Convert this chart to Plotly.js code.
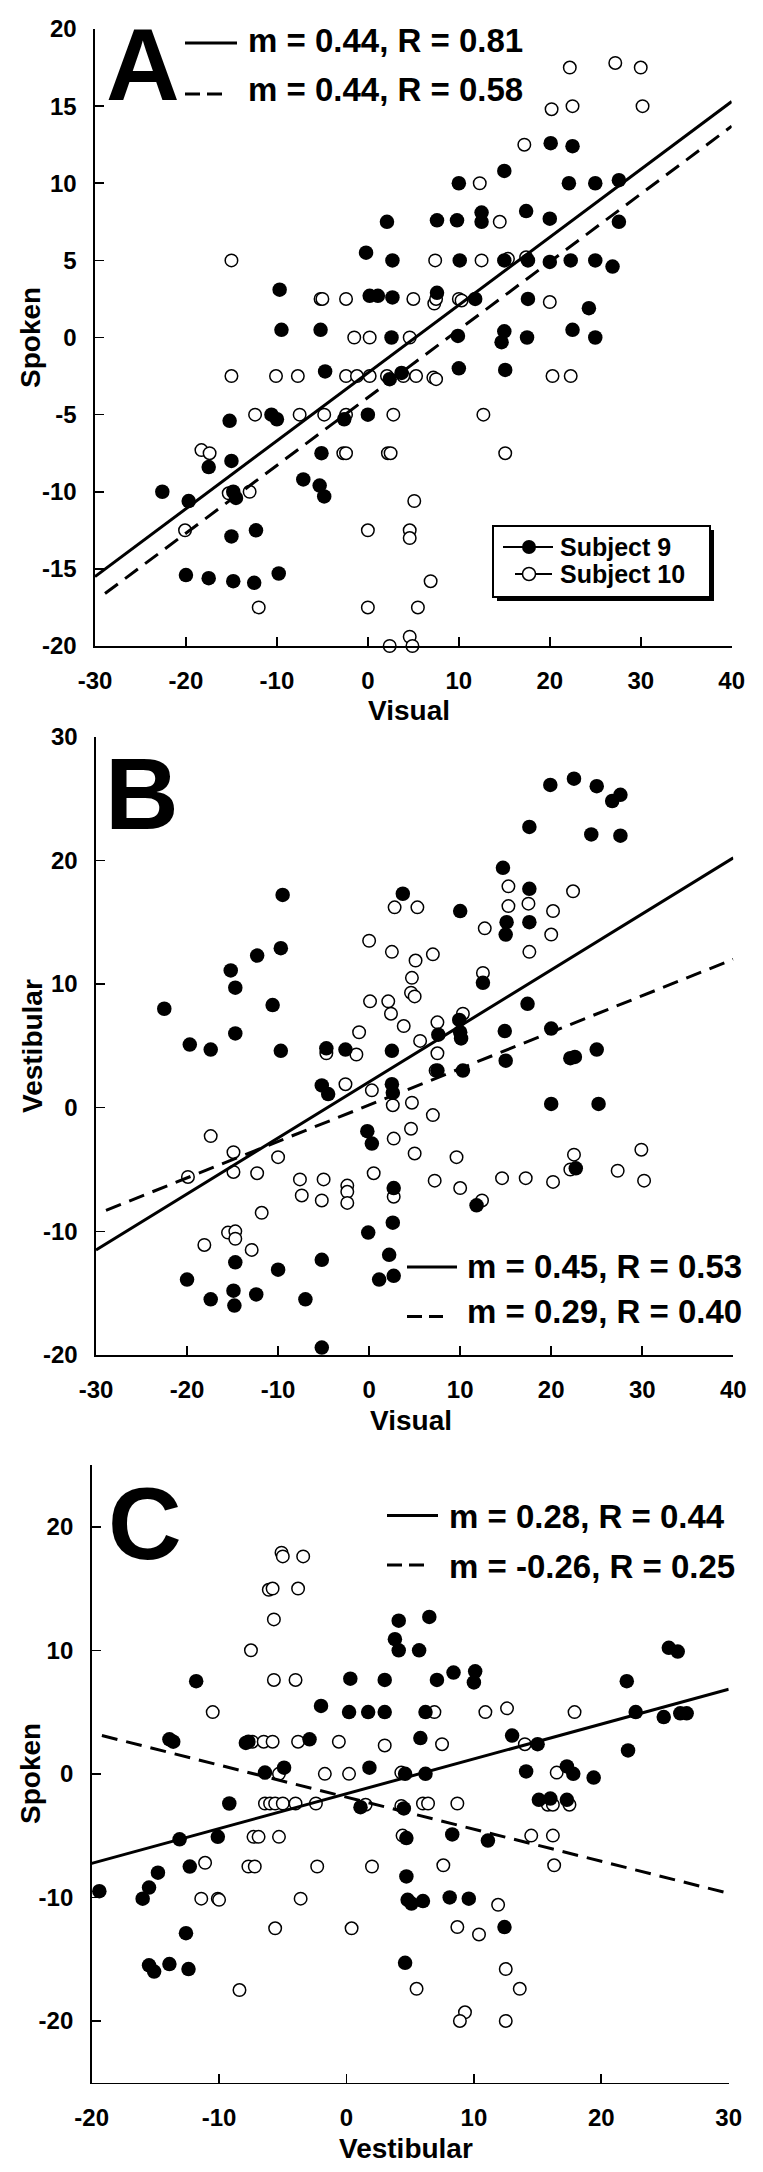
<!DOCTYPE html>
<html>
<head>
<meta charset="utf-8">
<script src="https://cdn.plot.ly/plotly-3.0.1.min.js"></script>
<style>html,body{margin:0;padding:0;background:#fff;}#chart{width:763px;height:2172px;}</style>
</head>
<body>
<div id="chart"></div>
<script>
// ---------- DATA ----------
// Panel A: Visual (x) vs Spoken (y)
const aS9x = [-9.7,-0.2,2.1,2.7,0.2,1.1,2.7,-9.5,-5.2,2.6,20.1,22.5,15.0,10.0,22.1,25.0,27.6,7.6,9.8,12.5,12.5,17.4,20.0,27.6,10.1,15.0,17.6,20.0,22.3,25.0,26.9,7.6,11.8,17.6,24.3,9.9,15.0,14.7,17.5,22.5,25.0,2.4,3.7,10.0,15.1,-4.7,-15.2,-10.6,-10.0,-2.6,0.0,-17.5,-15.0,-5.1,-22.6,-19.7,-14.8,-14.5,-7.1,-5.3,-4.8,-15.0,-12.3,-20.0,-17.5,-14.8,-12.5,-9.8];
const aS9y = [3.1,5.5,7.5,5.0,2.7,2.7,2.6,0.5,0.5,0.0,12.6,12.4,10.8,10.0,10.0,10.0,10.2,7.6,7.6,8.1,7.5,8.2,7.7,7.5,5.0,5.0,5.0,4.9,5.0,5.0,4.6,2.9,2.5,2.5,1.9,0.1,0.4,-0.3,0.0,0.5,0.0,-2.7,-2.3,-2.0,-2.1,-2.2,-5.4,-5.0,-5.3,-5.3,-5.0,-8.4,-8.0,-7.5,-10.0,-10.6,-10.0,-10.4,-9.2,-9.6,-10.3,-12.9,-12.5,-15.4,-15.6,-15.8,-15.9,-15.3];
const aS10x = [-15,-5.2,-5.0,-2.4,-1.5,0.2,22.2,27.2,30.0,20.2,22.5,30.2,17.2,12.3,14.5,7.4,12.5,15.4,17.4,5.0,7.3,7.5,10.0,10.3,20.0,4.6,2.1,3.9,5.3,7.2,7.5,20.3,22.3,2.8,12.7,2.2,2.5,15.1,5.1,4.6,4.6,6.9,5.5,4.6,4.9,2.4,-15,-10.1,-7.7,-2.4,-1.2,0.2,-12.4,-7.5,-4.8,-2.4,-18.3,-17.4,-2.7,-2.4,-15.3,-13,-20.1,0,-12,0];
const aS10y = [5,2.5,2.5,2.5,0,0,17.5,17.8,17.5,14.8,15.0,15.0,12.5,10.0,7.5,5.0,5.0,5.1,5.2,2.5,2.2,2.5,2.5,2.4,2.3,0,-2.5,-2.5,-2.5,-2.6,-2.7,-2.5,-2.5,-5,-5,-7.5,-7.5,-7.5,-10.6,-12.5,-13,-15.8,-17.5,-19.4,-20,-20,-2.5,-2.5,-2.5,-2.5,-2.5,-2.5,-5,-5,-5,-5,-7.3,-7.5,-7.5,-7.5,-10.1,-10,-12.5,-12.5,-17.5,-17.5];
const aFitSolidX = [-30, 40], aFitSolidY = [-15.5, 15.3];
const aFitDashX = [-28.9, 40], aFitDashY = [-16.6, 13.7];

// Panel B: Visual (x) vs Vestibular (y)
const bS9x = [-9.5,-9.7,-12.3,-15.2,-14.7,-10.6,-22.5,-14.7,-19.7,-17.4,-9.7,-4.7,-2.6,2.5,3.7,10.0,7.6,9.9,10.0,10.1,7.5,10.3,2.5,15.0,14.9,17.4,20.0,22.1,22.6,25.0,14.7,17.6,15.1,15.0,17.6,12.5,19.9,22.5,25.0,26.7,27.6,17.6,24.4,27.6,-5.2,-4.5,2.6,-0.2,0.3,2.7,2.6,-0.1,2.2,1.1,2.7,-14.7,-10.0,-20.0,-17.4,-14.9,-14.8,-12.4,-7.0,-5.2,-5.2,11.8,22.7,20.0,25.2];
const bS9y = [17.2,12.9,12.3,11.1,9.7,8.3,8.0,6.0,5.1,4.7,4.6,4.8,4.7,4.6,17.3,15.9,5.9,7.1,6.1,5.6,3.0,3.0,1.9,3.8,6.2,8.4,6.4,4.0,4.1,4.7,19.4,17.7,15.0,14.0,15.0,10.1,26.1,26.6,26.0,24.8,25.3,22.7,22.1,22.0,1.8,1.1,1.2,-1.9,-2.9,-6.5,-9.3,-10.1,-11.9,-13.9,-13.6,-12.5,-13.1,-13.9,-15.5,-14.8,-16.0,-15.1,-15.5,-12.3,-19.4,-7.9,-4.9,0.3,0.3];
const bS10x = [-4.7,-1.4,-1.1,0.1,2.1,2.4,0.0,2.5,2.8,5.3,5.1,7.0,4.7,4.6,5.0,3.8,5.6,7.5,10.3,7.5,7.3,15.3,15.3,17.5,12.7,20.2,20.0,22.4,17.6,12.5,-2.6,0.3,2.6,-17.4,-14.9,-14.9,-19.9,-12.3,-10.0,-7.6,-7.4,-5.0,-5.2,-2.4,-2.4,-2.4,0.5,2.7,2.7,-18.1,-15.5,-14.7,-14.7,-12.9,-11.8,4.7,7.0,4.6,5.0,9.6,7.2,10.0,12.4,14.6,17.2,20.2,22.5,22.1,27.3,29.9,30.2];
const bS10y = [4.4,4.3,6.1,8.6,8.6,7.6,13.5,12.6,16.2,16.2,11.9,12.4,10.5,9.3,9.0,6.6,5.4,6.9,7.6,4.4,3.0,17.9,16.3,16.5,14.5,15.9,14.0,17.5,12.6,10.9,1.9,1.4,0.2,-2.3,-3.6,-5.2,-5.6,-5.3,-4.0,-5.8,-7.1,-5.8,-7.5,-6.3,-6.8,-7.7,-5.3,-2.5,-7.2,-11.1,-10.1,-10.0,-10.6,-11.5,-8.5,0.4,-0.6,-1.7,-3.7,-4.0,-5.9,-6.5,-7.5,-5.7,-5.7,-6.0,-3.8,-5.0,-5.1,-3.4,-5.9];
const bFitSolidX = [-30, 40], bFitSolidY = [-11.5, 20.2];
const bFitDashX = [-28.9, 40], bFitDashY = [-8.3, 12.0];

// Panel C: Vestibular (x) vs Spoken (y)
const cS9x = [-11.8,-13.9,-13.6,-7.9,-7.7,-2.9,-2.0,0.2,1.7,3.0,0.3,3.0,-6.4,-4.9,1.8,-9.2,1.1,4.1,6.5,3.8,4.1,5.7,7.1,8.4,10.1,10.0,6.2,22.0,25.3,26.0,22.7,24.9,26.2,26.7,22.1,5.8,13.0,15.0,14.1,17.3,17.8,19.4,4.6,6.2,15.1,16.0,17.3,4.5,-13.1,-10.1,-12.3,-14.8,-15.5,-16.0,-19.4,-12.6,-15.5,-15.1,-13.9,-12.4,4.7,8.3,11.1,4.7,4.8,5.1,6.0,8.1,9.6,12.4,4.6];
const cS9y = [7.5,2.8,2.6,2.5,2.6,2.8,5.5,5.0,5.0,5.0,7.7,7.6,0.1,0.5,0.5,-2.4,-2.7,12.4,12.7,10.9,10.0,10.0,7.6,8.2,8.3,7.4,5.0,7.5,10.2,9.9,5.0,4.6,4.9,4.9,1.9,2.9,3.1,2.4,0.2,0.6,0.0,-0.3,0.0,0.0,-2.1,-2.0,-2.1,-2.8,-5.3,-5.1,-7.5,-8.0,-9.2,-10.1,-9.5,-12.9,-15.5,-16.0,-15.4,-15.8,-5.2,-4.9,-5.4,-8.3,-10.2,-10.5,-10.3,-10.0,-10.1,-12.4,-15.3];
const cS10x = [-5.1,-5.0,-3.4,-6.1,-5.8,-3.8,-5.7,-7.5,-5.7,-4.0,-10.5,-7.4,-6.5,-5.8,-3.8,-0.6,3.0,-5.3,-1.7,0.2,-6.4,-6.0,-5.6,-5.0,-4.0,-2.4,1.5,6.9,10.9,12.6,17.9,7.5,14.0,16.5,4.3,15.8,16.2,17.5,4.3,6.0,6.4,8.7,-7.3,-6.9,-5.3,-11.1,-7.7,-7.2,-2.3,2.0,-11.4,-10.1,-10.0,-3.6,-5.6,0.4,-8.4,4.4,14.5,16.2,7.6,16.3,11.9,8.7,10.4,5.5,12.5,13.6,9.3,8.9,12.5];
const cS10y = [17.9,17.6,17.6,14.9,15.0,15.0,12.5,10.0,7.6,7.6,5.0,2.6,2.6,2.6,2.6,2.6,2.3,0.0,0.0,0.0,-2.4,-2.4,-2.4,-2.4,-2.4,-2.4,-2.5,5.0,5.0,5.3,5.0,2.4,2.4,0.1,0.1,-2.5,-2.5,-2.5,-2.6,-2.4,-2.4,-2.4,-5.1,-5.1,-5.1,-7.2,-7.5,-7.5,-7.5,-7.5,-10.1,-10.1,-10.2,-10.1,-12.5,-12.5,-17.5,-5.0,-5.0,-5.0,-7.4,-7.4,-10.6,-12.4,-13.0,-17.4,-15.8,-17.4,-19.3,-20.0,-20.0];
const cFitSolidX = [-20, 30], cFitSolidY = [-7.25, 6.85];
const cFitDashX = [-19.2, 30.1], cFitDashY = [3.1, -9.7];

const fitLabelsA = ["m = 0.44, R = 0.81", "m = 0.44, R = 0.58"];
const fitLabelsB = ["m = 0.45, R = 0.53", "m = 0.29, R = 0.40"];
const fitLabelsC = ["m = 0.28, R = 0.44", "m = -0.26, R = 0.25"];
const seriesNames = ["Subject 9", "Subject 10"];
const xTicksAB = [-30,-20,-10,0,10,20,30,40];
const yTicksA = [-20,-15,-10,-5,0,5,10,15,20];
const yTicksB = [-20,-10,0,10,20,30];
const xTicksC = [-20,-10,0,10,20,30];
const yTicksC = [-20,-10,0,10,20];

// ---------- RENDER ----------
const W = 763, H = 2172;
const PX = v => v / W;
const PY = v => 1 - v / H;
const FONT = "Liberation Sans, Arial, Helvetica, sans-serif";

function panelTraces(xa, ya, fx, fy, ox, oy, sx, sy, dx, dy) {
  return [
    {x: ox, y: oy, xaxis: xa, yaxis: ya, type: 'scatter', mode: 'markers', cliponaxis: false, showlegend: false, name: seriesNames[1],
     marker: {symbol: 'circle', size: 12.5, color: 'white', line: {color: 'black', width: 1.5}}},
    {x: fx, y: fy, xaxis: xa, yaxis: ya, type: 'scatter', mode: 'markers', cliponaxis: false, showlegend: false, name: seriesNames[0],
     marker: {symbol: 'circle', size: 14.5, color: 'black', line: {width: 0}}},
    {x: sx, y: sy, xaxis: xa, yaxis: ya, type: 'scatter', mode: 'lines', showlegend: false, cliponaxis: false,
     line: {color: 'black', width: 3}},
    {x: dx, y: dy, xaxis: xa, yaxis: ya, type: 'scatter', mode: 'lines', showlegend: false, cliponaxis: false,
     line: {color: 'black', width: 3, dash: '16px,9px'}}
  ];
}

const data = [].concat(
  panelTraces('x', 'y', aS9x, aS9y, aS10x, aS10y, aFitSolidX, aFitSolidY, aFitDashX, aFitDashY),
  panelTraces('x2', 'y2', bS9x, bS9y, bS10x, bS10y, bFitSolidX, bFitSolidY, bFitDashX, bFitDashY),
  panelTraces('x3', 'y3', cS9x, cS9y, cS10x, cS10y, cFitSolidX, cFitSolidY, cFitDashX, cFitDashY)
);

function axis(domain, range, ticks, anchor, isX) {
  return {
    domain: domain, range: range, anchor: anchor,
    tickmode: 'array', tickvals: ticks, ticktext: ticks.map(t => '<b>' + t + '</b>'),
    showline: true, linecolor: 'black', linewidth: 1.6, mirror: false,
    ticks: 'inside', ticklen: 9, tickwidth: 1.6, tickcolor: 'black',
    showgrid: false, zeroline: false, fixedrange: true,
    ticklabelstandoff: isX ? 13 : 12,
    tickfont: {family: FONT, size: 24, color: 'black', weight: 700}
  };
}

const layout = {
  width: W, height: H, autosize: false,
  margin: {l: 0, r: 0, t: 0, b: 0, pad: 0},
  paper_bgcolor: 'white', plot_bgcolor: 'rgba(0,0,0,0)',
  showlegend: false,
  xaxis:  axis([PX(95), PX(731.7)], [-30, 40], xTicksAB, 'y', true),
  yaxis:  axis([PY(646), PY(29)], [-20, 20], yTicksA, 'x', false),
  xaxis2: axis([PX(96), PX(733.3)], [-30, 40], xTicksAB, 'y2', true),
  yaxis2: axis([PY(1355), PY(736.7)], [-20, 30], yTicksB, 'x2', false),
  xaxis3: axis([PX(91.7), PX(728.7)], [-20, 30], xTicksC, 'y3', true),
  yaxis3: axis([PY(2082.7), PY(1465)], [-25, 25], yTicksC, 'x3', false),
  annotations: [],
  shapes: []
};

function txt(text, x, y, size, xanchor, angle) {
  layout.annotations.push({
    text: '<b>' + text + '</b>', xref: 'paper', yref: 'paper', x: PX(x), y: PY(y),
    xanchor: xanchor || 'left', yanchor: 'middle', showarrow: false,
    textangle: angle || 0,
    font: {family: FONT, size: size, color: 'black', weight: 700}
  });
}
function seg(x0, y0, x1, y1, width, dash) {
  layout.shapes.push({type: 'line', xref: 'paper', yref: 'paper', x0: PX(x0), y0: PY(y0), x1: PX(x1), y1: PY(y1),
    line: {color: 'black', width: width, dash: dash || 'solid'}});
}

// Panel letters
txt('A', 104, 65.5, 102);
txt('B', 103, 793.7, 102);
txt('C', 106, 1523.5, 102);

// Fit labels
txt(fitLabelsA[0], 246, 41, 33); txt(fitLabelsA[1], 246, 90, 33);
seg(185, 43, 237, 43, 3); seg(185, 94, 222, 94, 3, '15px,7px');
txt(fitLabelsB[0], 465, 1266.7, 33); txt(fitLabelsB[1], 465, 1311, 33);
seg(407, 1267, 457, 1267, 3); seg(407, 1316.5, 443, 1316.5, 3, '15px,7px');
txt(fitLabelsC[0], 447, 1516.7, 33); txt(fitLabelsC[1], 447, 1566.7, 33);
seg(387, 1515.5, 438, 1515.5, 3); seg(387, 1565, 424, 1565, 3, '15px,7px');

// Axis titles
txt('Spoken', 31, 337, 28, 'center', -90);
txt('Visual', 409, 710, 28, 'center');
txt('Vestibular', 32, 1046, 28, 'center', -90);
txt('Visual', 411, 1420, 28, 'center');
txt('Spoken', 30, 1774, 28, 'center', -90);
txt('Vestibular', 406, 2148, 28, 'center');

// Legend box (panel A)
layout.shapes.push({type: 'rect', xref: 'paper', yref: 'paper', x0: PX(497), y0: PY(530), x1: PX(714), y1: PY(601),
  fillcolor: 'black', line: {width: 0}});
layout.shapes.push({type: 'rect', xref: 'paper', yref: 'paper', x0: PX(493), y0: PY(526), x1: PX(710), y1: PY(597),
  fillcolor: 'white', line: {color: 'black', width: 2}});
seg(503, 547, 553, 547, 2);
seg(515, 574, 552, 574, 2);
layout.shapes.push({type: 'circle', xref: 'paper', yref: 'paper', xsizemode: 'pixel', ysizemode: 'pixel',
  xanchor: PX(529), yanchor: PY(547), x0: -7, x1: 7, y0: -7, y1: 7, fillcolor: 'black', line: {width: 0}});
layout.shapes.push({type: 'circle', xref: 'paper', yref: 'paper', xsizemode: 'pixel', ysizemode: 'pixel',
  xanchor: PX(529), yanchor: PY(574), x0: -6.5, x1: 6.5, y0: -6.5, y1: 6.5, fillcolor: 'white', line: {color: 'black', width: 1.5}});
txt(seriesNames[0], 558, 546.5, 25);
txt(seriesNames[1], 558, 574, 25);

Plotly.newPlot('chart', data, layout, {staticPlot: true, displayModeBar: false});
</script>
</body>
</html>
